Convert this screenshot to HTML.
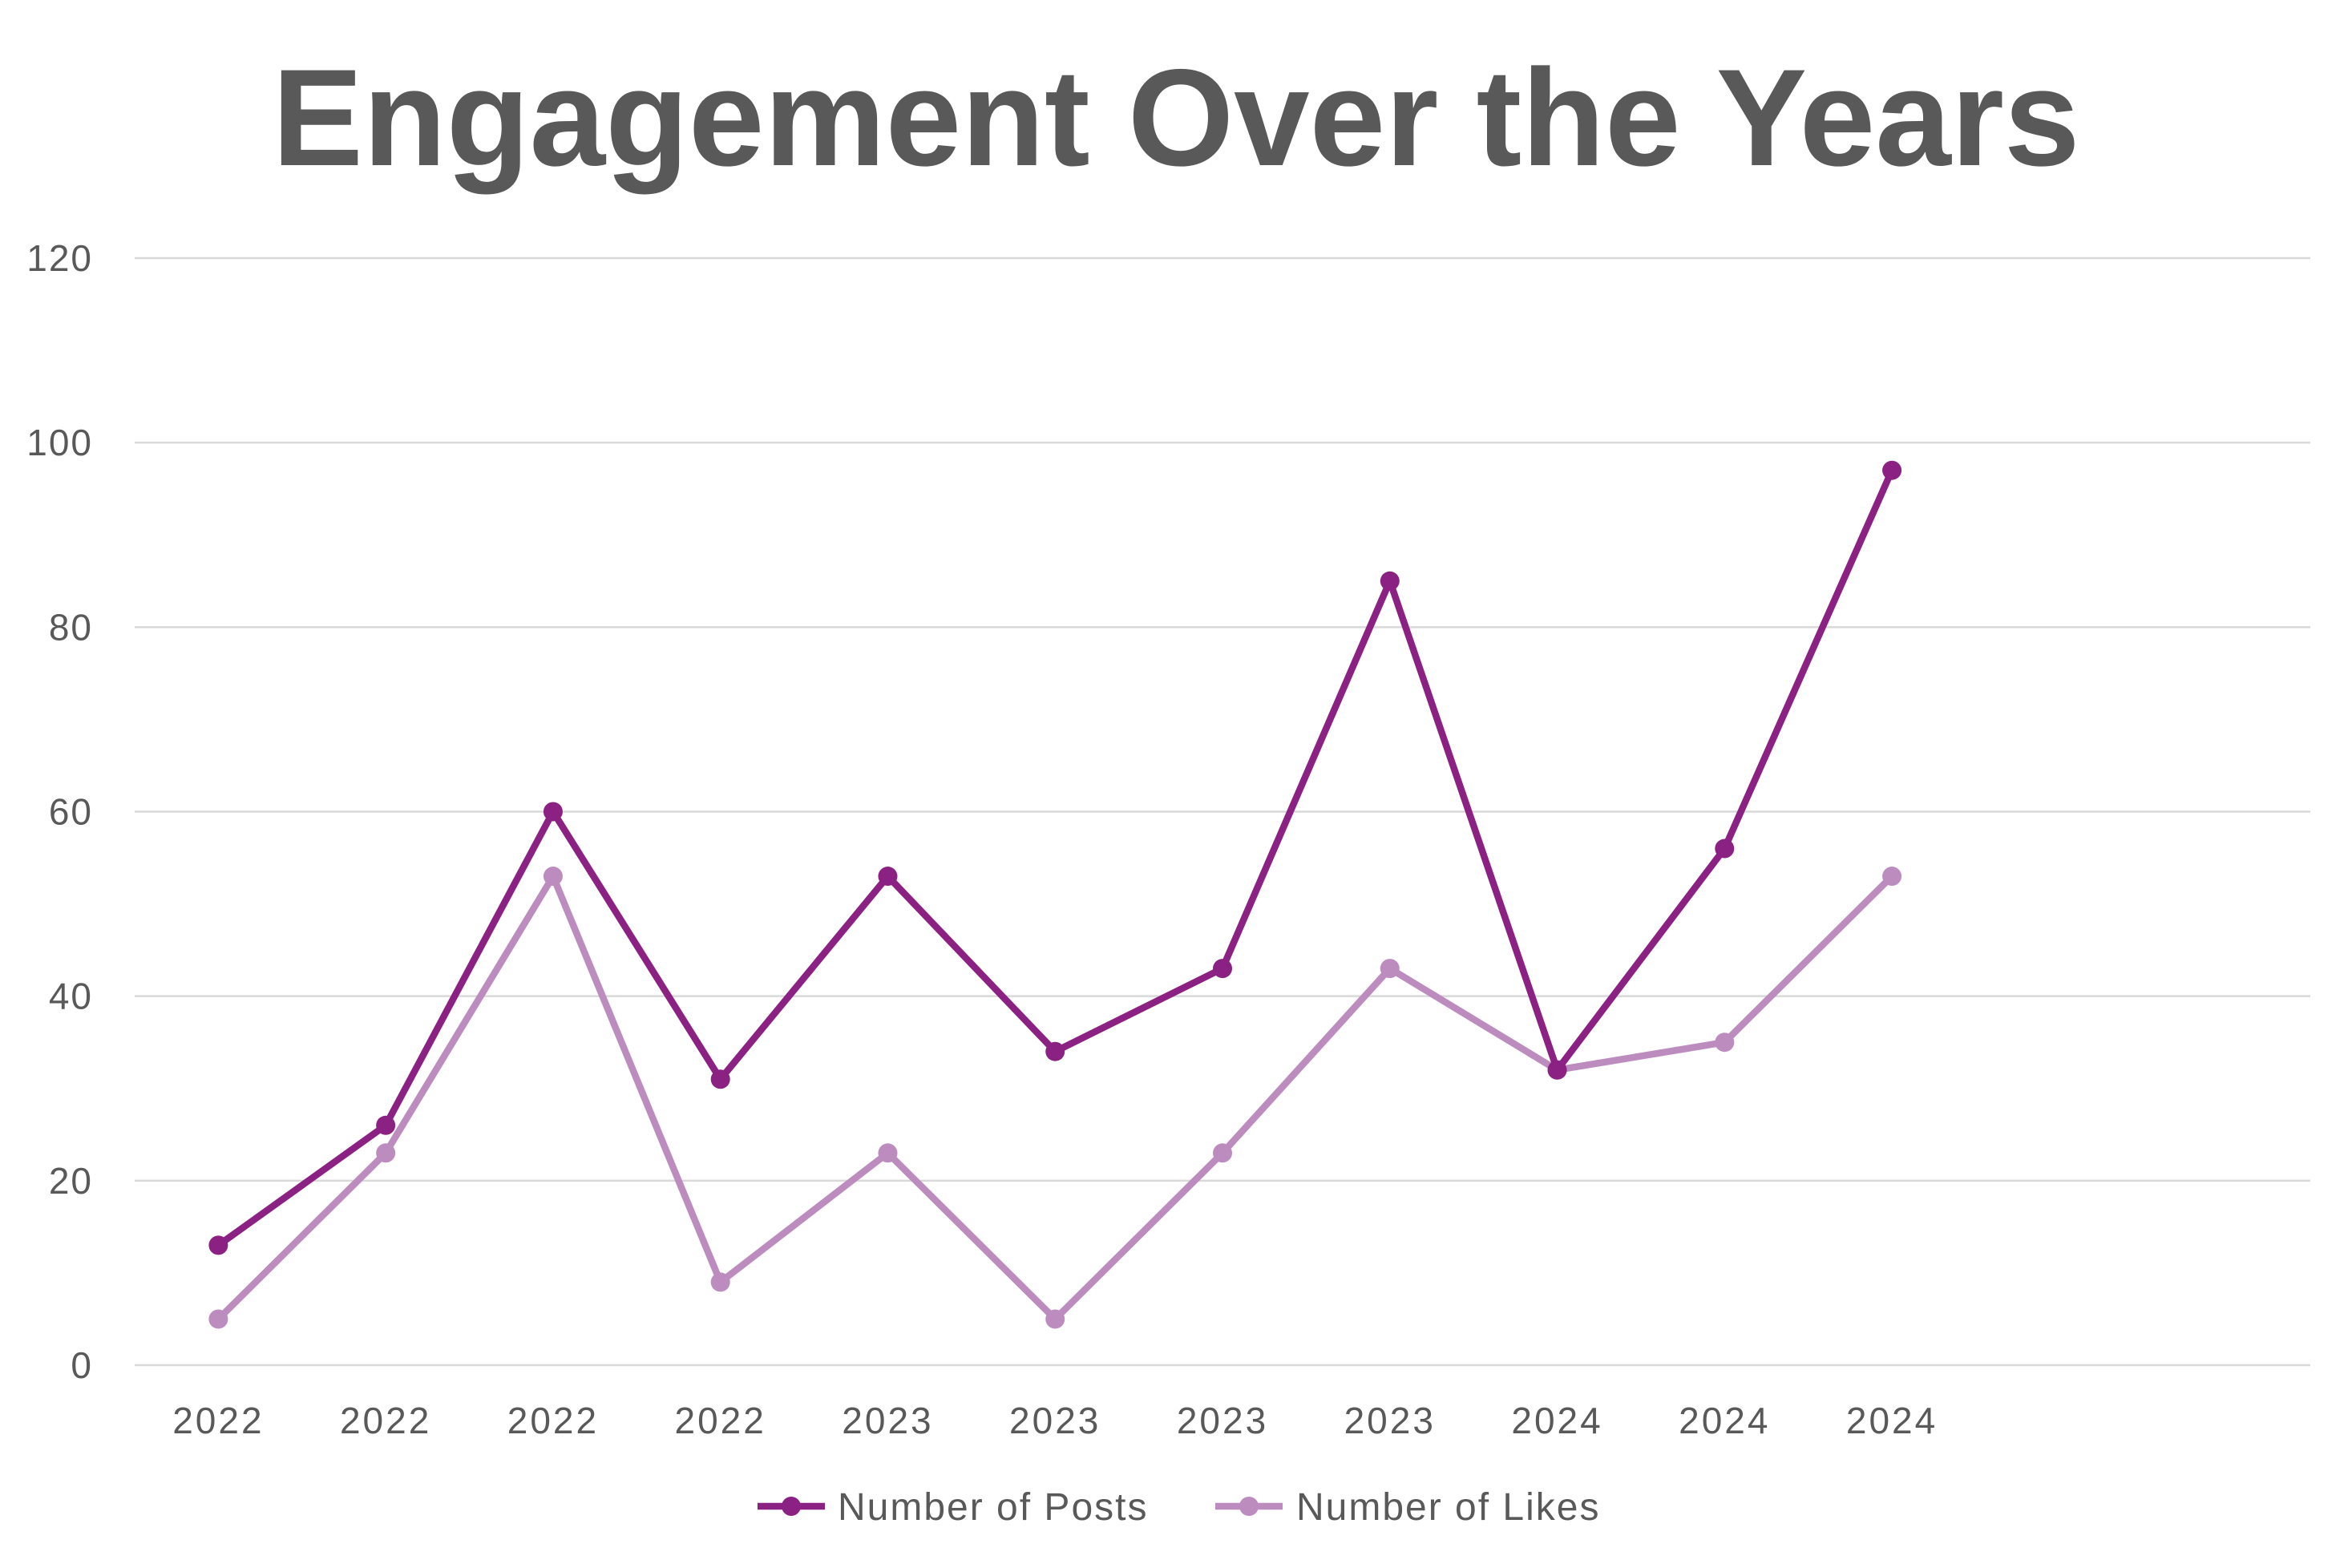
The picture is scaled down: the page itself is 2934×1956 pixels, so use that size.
<!DOCTYPE html>
<html><head><meta charset="utf-8">
<style>
html,body{margin:0;padding:0;background:#fff;}
svg{display:block;font-family:"Liberation Sans",sans-serif;}
</style></head>
<body>
<svg id="chart" width="2934" height="1956" viewBox="0 0 2934 1956" xmlns="http://www.w3.org/2000/svg">
<rect width="2934" height="1956" fill="#fff"/>
<text x="1467" y="206" text-anchor="middle" font-size="172" font-weight="bold" fill="#595959" textLength="2255" lengthAdjust="spacingAndGlyphs">Engagement Over the Years</text>
<g id="grid"></g>
<g id="yticks"></g>
<g id="xticks"></g>
<g id="series"></g>
<g>
  <g>
    <line x1="945" y1="1879" x2="1029" y2="1879" stroke="#8B2283" stroke-width="8.5"/>
    <circle cx="987" cy="1879" r="12" fill="#8B2283"/>
    <text x="1045" y="1896" font-size="48" letter-spacing="2" fill="#595959">Number of Posts</text>
  </g>
  <g>
    <line x1="1516" y1="1879" x2="1600" y2="1879" stroke="#BC8CBF" stroke-width="8.5"/>
    <circle cx="1558" cy="1879" r="12" fill="#BC8CBF"/>
    <text x="1617" y="1896" font-size="48" letter-spacing="2" fill="#595959">Number of Likes</text>
  </g>
</g>
</svg>
<script>
const categories = ["2022","2022","2022","2022","2023","2023","2023","2023","2024","2024","2024"];
const postsValues = [13,26,60,31,53,34,43,85,32,56,97];
const likesValues = [5,23,53,9,23,5,23,43,32,35,53];
const yTicks = [0,20,40,60,80,100,120];
const NS = "http://www.w3.org/2000/svg";
const plotL = 168, plotR = 2882, y0 = 1703, yTop = 322, nSlots = 13;
const yMax = 120;
const slotW = (plotR - plotL) / nSlots;
function xPos(i){ return plotL + slotW * (i + 0.5); }
function yPos(v){ return y0 - (v / yMax) * (y0 - yTop); }
function mk(tag, attrs, parent){ const e = document.createElementNS(NS, tag); for (const k in attrs) e.setAttribute(k, attrs[k]); parent.appendChild(e); return e; }
const grid = document.getElementById('grid');
const yt = document.getElementById('yticks');
yTicks.forEach(v => {
  const l = mk('line', {x1: plotL, x2: plotR, y1: yPos(v), y2: yPos(v), stroke: '#D9D9D9', 'stroke-width': 2.5}, grid);
  
  
  const t = mk('text', {x: 116, y: yPos(v) + 16, 'text-anchor': 'end', 'font-size': 46, 'letter-spacing': 2, fill: '#595959'}, yt);
  t.textContent = v;
  
  
});
const xt = document.getElementById('xticks');
categories.forEach((c, i) => {
  const t = mk('text', {x: xPos(i), y: 1788, 'text-anchor': 'middle', 'font-size': 46, 'letter-spacing': 3, fill: '#595959'}, xt);
  t.textContent = c;
  
  
});
const ser = document.getElementById('series');
function drawSeries(vals, color, name){
  const g = mk('g', {}, ser);
  
  
  const pts = vals.map((v, i) => xPos(i) + ',' + yPos(v)).join(' ');
  const pl = mk('polyline', {points: pts, fill: 'none', stroke: color, 'stroke-width': 8.5, 'stroke-linejoin': 'round', 'stroke-linecap': 'round'}, g);
  
  
  vals.forEach((v, i) => {
    const c = mk('circle', {cx: xPos(i), cy: yPos(v), r: 12, fill: color}, g);
    
    
  });
}
drawSeries(likesValues, '#BC8CBF', 'likes-series');
drawSeries(postsValues, '#8B2283', 'posts-series');
</script>
</body></html>
